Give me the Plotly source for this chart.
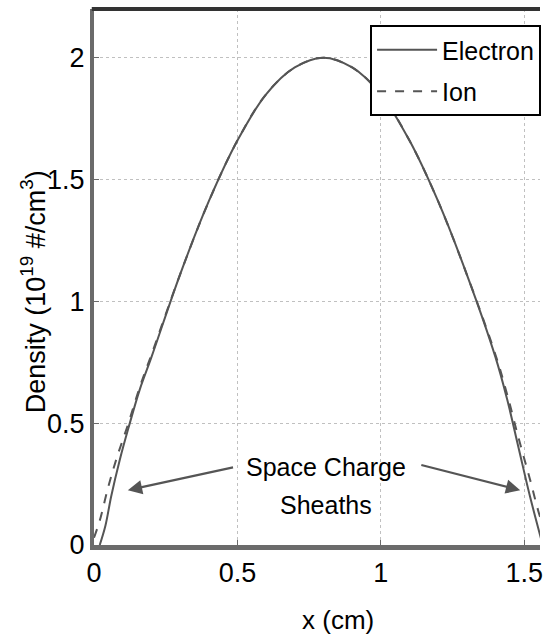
import plotly.graph_objects as go

# Data
electron_x = [0.02, 0.04, 0.06, 0.09, 0.12, 0.16, 0.2, 0.3, 0.4, 0.5, 0.6, 0.7, 0.8,
              0.9, 1.0, 1.1, 1.2, 1.3, 1.4, 1.44, 1.48, 1.52, 1.56]
electron_y = [0.0, 0.08, 0.2, 0.35, 0.48, 0.64, 0.77, 1.11, 1.41, 1.66, 1.85, 1.96, 2.0,
              1.96, 1.85, 1.66, 1.41, 1.11, 0.77, 0.6, 0.4, 0.2, 0.02]

ion_x = [0.0, 0.02, 0.05, 0.08, 0.12, 0.16, 0.2, 0.3, 0.4, 0.5, 0.6, 0.7, 0.8,
         0.9, 1.0, 1.1, 1.2, 1.3, 1.4, 1.44, 1.48, 1.52, 1.56, 1.6]
ion_y = [0.03, 0.1, 0.24, 0.36, 0.5, 0.65, 0.78, 1.11, 1.41, 1.66, 1.85, 1.96, 2.0,
         1.96, 1.85, 1.66, 1.41, 1.11, 0.78, 0.62, 0.44, 0.27, 0.1, 0.0]

x_ticks = [0, 0.5, 1, 1.5]
x_tick_labels = ["0", "0.5", "1", "1.5"]
y_ticks = [0, 0.5, 1, 1.5, 2]
y_tick_labels = ["0", "0.5", "1", "1.5", "2"]

series_names = ["Electron", "Ion"]

FONT = "Liberation Sans, Arial, sans-serif"
LINE_COLOR = "#555555"
AXIS_COLOR = "#6b6b6b"

fig = go.Figure()
fig.add_trace(go.Scatter(x=electron_x, y=electron_y, mode="lines", name=series_names[0],
                         legendgroup="e",
                         line=dict(color=LINE_COLOR, width=2, dash="solid"), line_shape="spline"))
fig.add_trace(go.Scatter(x=ion_x, y=ion_y, mode="lines", name=series_names[1],
                         legendgroup="i",
                         line=dict(color=LINE_COLOR, width=2, dash="dash"), line_shape="spline"))

# Arrows for "Space Charge Sheaths"
arrow_common = dict(xref="x", yref="y", axref="x", ayref="y", showarrow=True,
                    arrowhead=2, arrowsize=1.3, arrowwidth=2.2, arrowcolor="#555555", text="")
fig.add_annotation(x=0.118, y=0.225, ax=0.49, ay=0.32, **arrow_common)
fig.add_annotation(x=1.486, y=0.225, ax=1.136, ay=0.33, **arrow_common)
fig.add_annotation(x=0.81, y=0.32, xref="x", yref="y", showarrow=False,
                   text="Space Charge", font=dict(family=FONT, size=25, color="black"))
fig.add_annotation(x=0.81, y=0.165, xref="x", yref="y", showarrow=False,
                   text="Sheaths", font=dict(family=FONT, size=25, color="black"))

# Axis titles as annotations (original figure is cropped on the right)
fig.add_annotation(x=0.548, y=-0.14, xref="paper", yref="paper", showarrow=False,
                   xanchor="center", yanchor="middle",
                   text="x (cm)", font=dict(family=FONT, size=26, color="black"))
fig.add_annotation(x=-0.136, y=0.472, xref="paper", yref="paper", showarrow=False,
                   xanchor="center", yanchor="middle", textangle=-90,
                   text="Density (10<sup>19</sup> #/cm<sup>3</sup>)",
                   font=dict(family=FONT, size=27, color="black"))

# top frame line
fig.add_shape(type="line", xref="paper", yref="paper", x0=-0.005, x1=1.0, y0=1, y1=1,
              line=dict(color="#333333", width=4))

fig.update_layout(
    width=543, height=637,
    margin=dict(l=94, r=0, t=9, b=92),
    paper_bgcolor="white", plot_bgcolor="white",
    font=dict(family=FONT, size=27, color="black"),
    showlegend=True,
    legend=dict(x=0.619, y=0.970, xanchor="left", yanchor="top",
                bgcolor="white", bordercolor="black", borderwidth=2,
                font=dict(family=FONT, size=25, color="black"),
                tracegroupgap=6, itemwidth=60,
                entrywidth=200, entrywidthmode="pixels"),
    xaxis=dict(range=[0, 1.555], tickvals=x_ticks, ticktext=x_tick_labels,
               showgrid=True, gridcolor="#c0c0c0", griddash="dot", gridwidth=1,
               showline=True, linecolor=AXIS_COLOR, linewidth=5, mirror=False,
               ticks="inside", ticklen=5, tickcolor=AXIS_COLOR,
               ticklabeloverflow="allow",
               zeroline=False, tickfont=dict(family=FONT, size=27)),
    yaxis=dict(range=[0, 2.2], tickvals=y_ticks, ticktext=y_tick_labels,
               showgrid=True, gridcolor="#c0c0c0", griddash="dot", gridwidth=1,
               showline=True, linecolor=AXIS_COLOR, linewidth=4,
               ticks="inside", ticklen=5, tickcolor=AXIS_COLOR,
               zeroline=False, tickfont=dict(family=FONT, size=27)),
)

fig.write_html("out.html")
